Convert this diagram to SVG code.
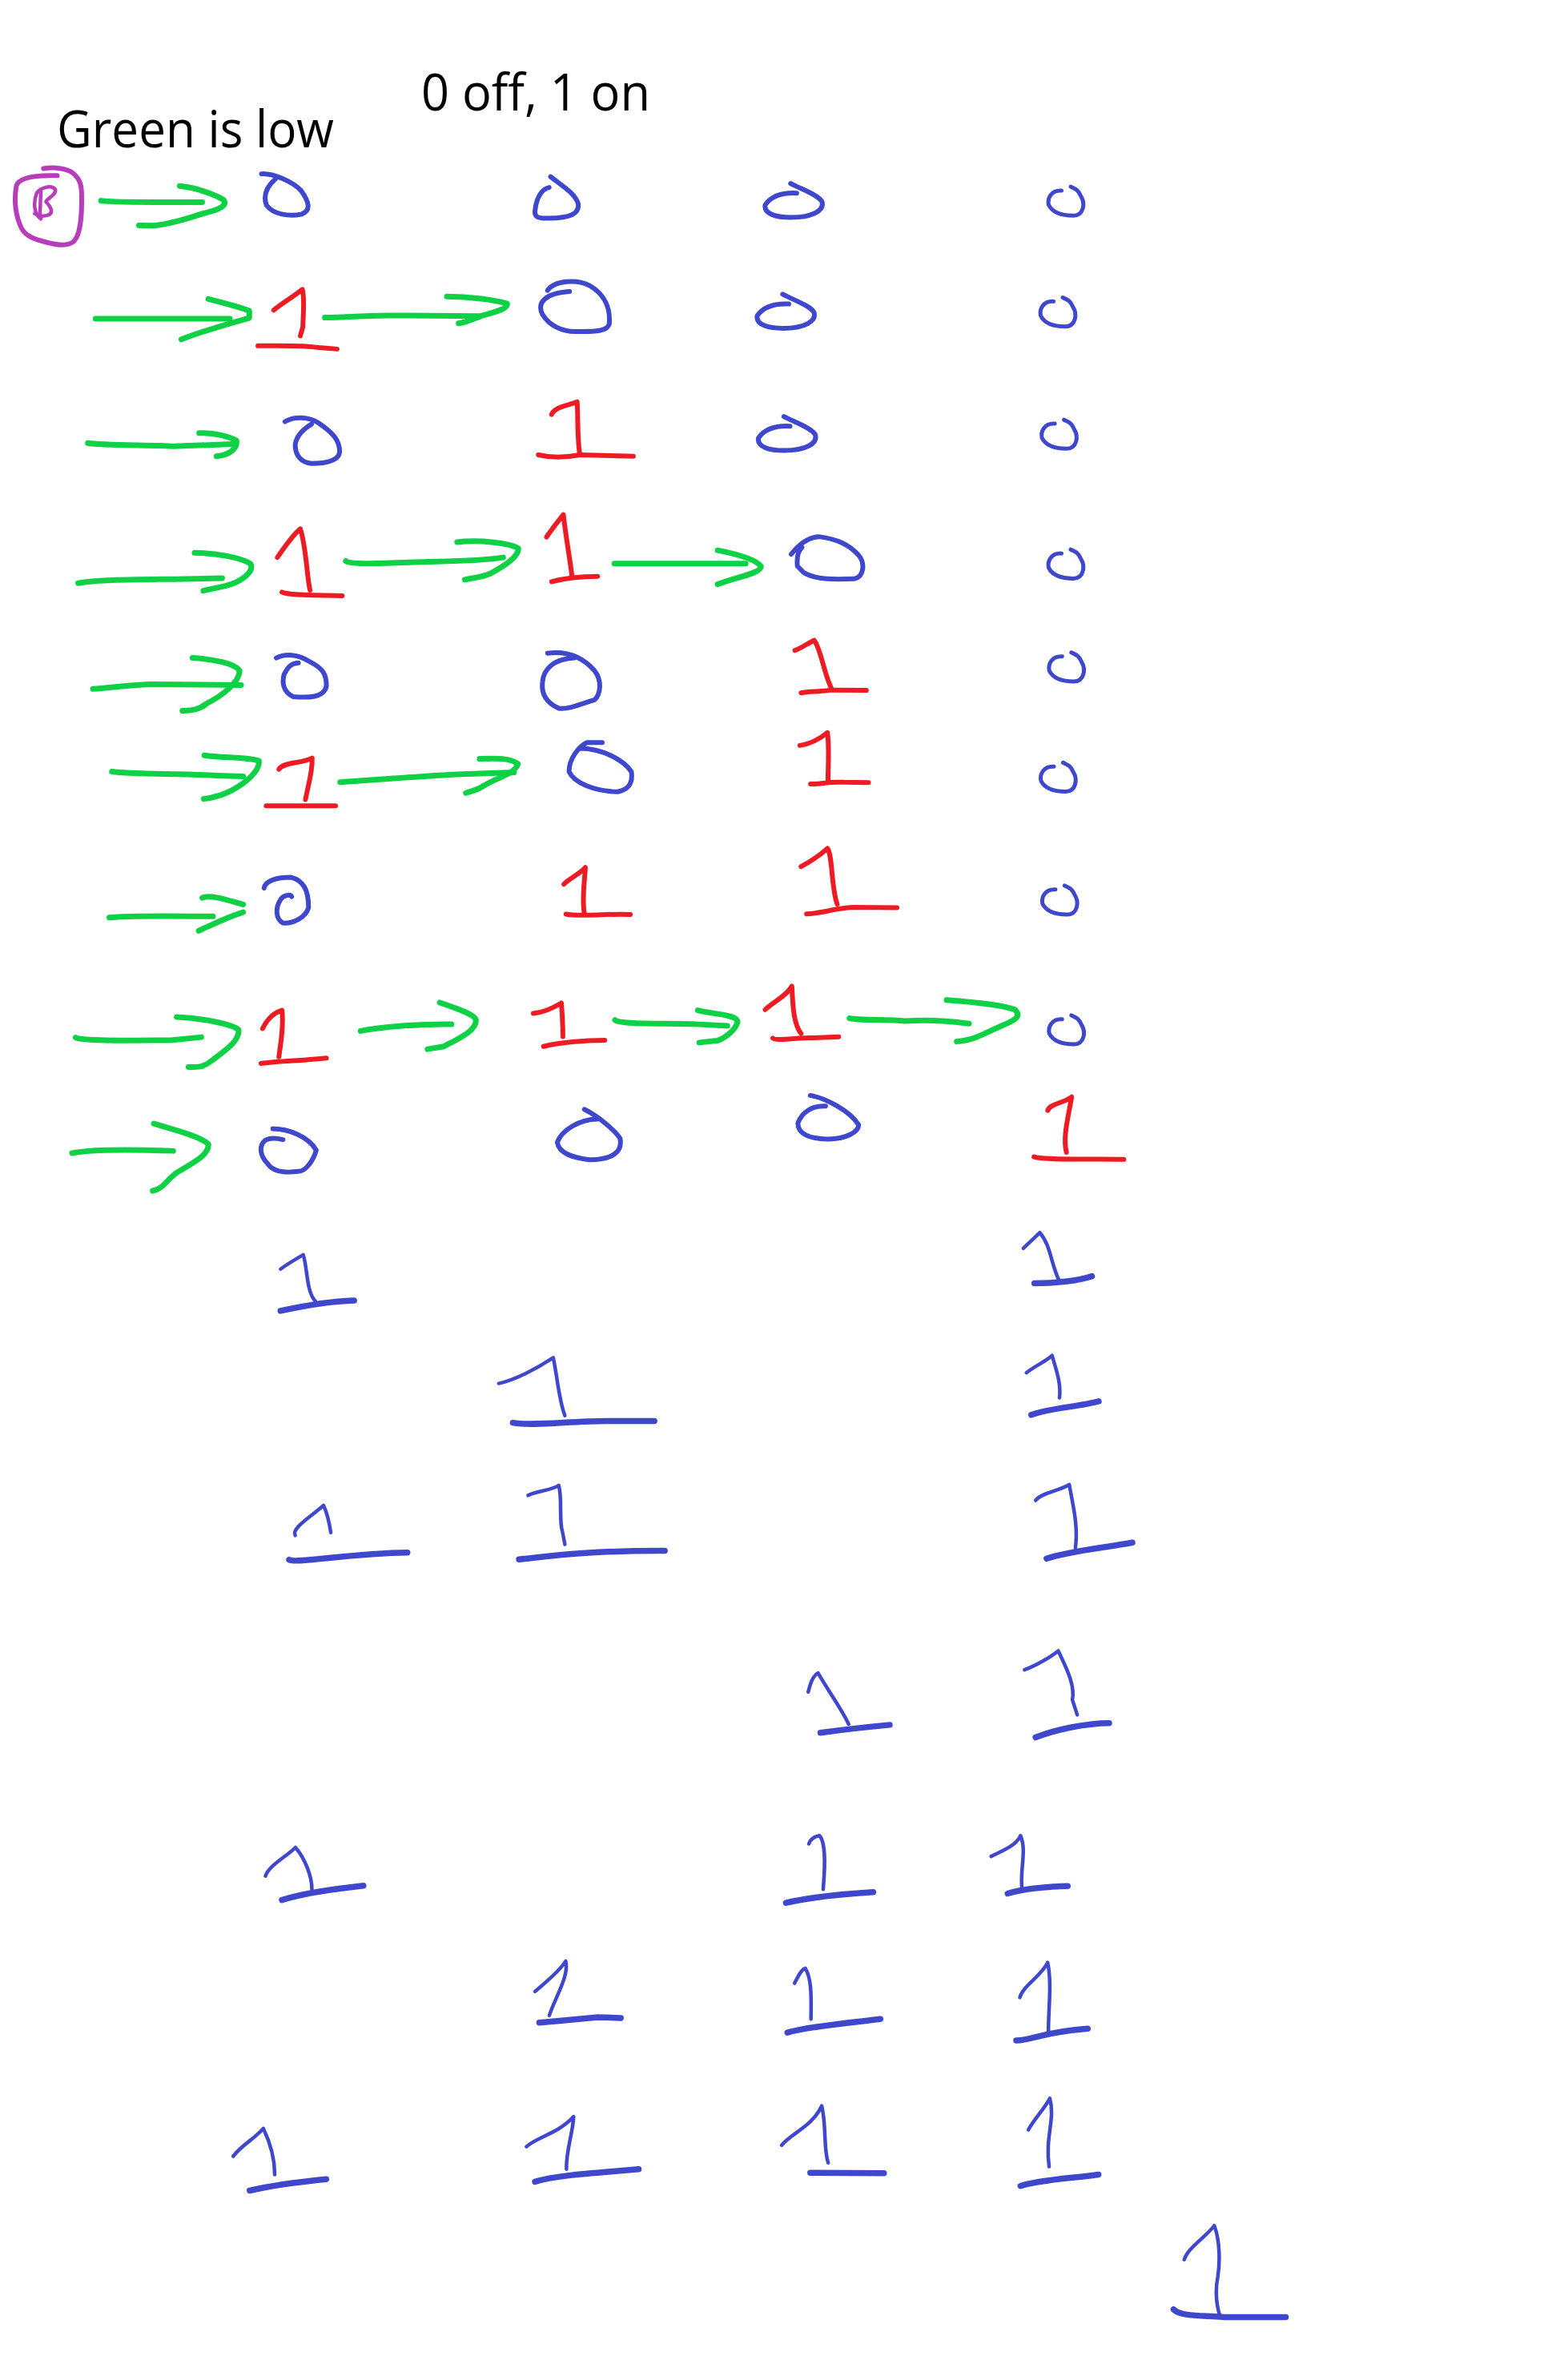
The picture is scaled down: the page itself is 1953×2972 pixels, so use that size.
<svg xmlns="http://www.w3.org/2000/svg" width="1953" height="2972" viewBox="0 0 1953 2972">
<style>
path{fill:none;stroke-linecap:round;stroke-linejoin:round;vector-effect:non-scaling-stroke;stroke-width:6}
.z1{transform:translate(0px,60px) scale(.6378,.4464)}
.z2{transform:translate(900px,180px) scale(.3827,.4464)}
.z3{transform:translate(60px,760px) scale(.6378,.4847)}
.z4{transform:translate(900px,880px) scale(.3827,.4464)}
.z5{transform:translate(260px,1520px) scale(.7653,.4464)}
.z6{transform:translate(260px,2240px) scale(.8929,.4464)}
.b{stroke:#3f48cc}
.r{stroke:#ed1c24}
.p{stroke:#b83dba}
.p path+path{stroke-width:4.5}
.g{stroke:#0ed145}
.g path{stroke-width:7}
.t path{stroke-width:4.5}
.t path+path{stroke-width:7.5}
#c{stroke-width:5}
text{font-family:"Open Sans","Noto Sans",sans-serif;fill:#000}
</style>
<defs>
<path id="ov" d="M228 110C260 125 315 140 330 160C340 185 300 205 230 205C180 205 140 195 145 170C165 145 200 135 248 137"/>
<path id="c" d="M1112 130C1080 128 1065 150 1070 170C1085 195 1120 200 1150 200C1185 200 1190 165 1175 145C1165 125 1155 125 1142 119"/>
</defs>
<rect width="1953" height="2972" fill="#fff"/>
<text id="label-green" x="71" y="184" font-size="64" textLength="346" lengthAdjust="spacingAndGlyphs">Green is low</text>
<text id="label-legend" x="526" y="138" font-size="64" textLength="286" lengthAdjust="spacingAndGlyphs">0 off, 1 on</text>
<g id="start" class="z1 p"><path d="M85 337C105 333 130 335 143 350C158 368 160 385 160 420C160 470 158 520 145 540C135 555 115 552 95 545C65 535 45 525 38 490C30 460 28 420 32 385C38 360 75 355 112 357"/><path d="M80 478C66 465 65 430 72 405C80 390 100 382 108 395C112 410 92 420 90 430C100 445 105 460 95 467C85 472 75 470 68 463M80 400L78 475"/></g>
<g id="connectors">
<g class="z1 g"><path d="M198 427C230 433 340 431 396 431"/><path d="M352 386C380 390 420 408 438 425C445 440 430 452 405 460C375 472 340 492 300 497L272 496"/></g>
<g class="z1 g"><path d="M187 757L450 757"/><path d="M408 702C430 710 470 725 488 735L488 755C450 770 400 790 355 815"/></g>
<g class="z1 g"><path d="M636 754C670 755 700 748 760 748L940 750"/><path d="M875 695C920 695 970 705 993 715C995 730 965 740 945 748C930 755 915 768 898 770"/></g>
<g class="z1 g"><path d="M172 1105C200 1112 300 1110 340 1114L455 1108"/><path d="M390 1077C420 1075 450 1088 463 1098C465 1120 450 1138 424 1142"/></g>
<g class="z1 g"><path d="M153 1497C190 1485 280 1488 435 1483"/><path d="M381 1412C420 1412 470 1425 490 1442C500 1465 470 1495 440 1505L398 1518"/></g>
<g class="z1 g"><path d="M677 1435C685 1445 750 1442 810 1438C860 1435 930 1437 985 1425"/><path d="M895 1382C940 1375 1000 1385 1015 1400C1015 1425 985 1450 960 1470C945 1480 925 1482 910 1487"/></g>
<g class="z1 g"><path d="M1203 1442L1460 1442"/><path d="M1405 1405C1440 1415 1480 1430 1490 1450C1490 1470 1440 1480 1405 1500"/></g>
<g class="z3 g"><path d="M88 207C120 205 150 197 200 195L378 197"/><path d="M283 127C320 130 365 140 375 160C375 190 340 225 310 245C295 262 280 262 263 263"/></g>
<g class="z3 g"><path d="M125 420C160 427 250 425 330 430L382 432"/><path d="M306 378C340 385 390 382 413 392C415 420 385 450 360 468C340 482 325 487 305 490"/></g>
<g class="z3 g"><path d="M572 447C650 440 750 430 800 427L912 422"/><path d="M845 387C880 385 905 385 920 400C915 425 880 435 855 455C840 468 830 470 818 475"/></g>
<g class="z3 g"><path d="M120 796C160 790 250 792 323 793"/><path d="M302 745C320 735 360 755 382 762M382 782C350 795 320 815 295 830"/></g>
<g class="z3 g"><path d="M54 1105C65 1115 180 1112 240 1112L300 1104"/><path d="M252 1052C300 1055 360 1070 373 1085C375 1115 345 1140 320 1165C305 1182 290 1182 275 1181"/></g>
<g class="z3 g"><path d="M612 1088C650 1078 720 1070 790 1071"/><path d="M767 1015C800 1030 835 1045 838 1060C838 1090 800 1110 775 1128L743 1135"/></g>
<g class="z3 g"><path d="M1110 1060C1120 1072 1200 1068 1260 1070L1330 1075"/><path d="M1272 1035C1300 1045 1350 1045 1350 1065C1345 1090 1320 1110 1310 1113L1275 1118"/></g>
<g class="z4 g"><path d="M420 877C460 885 550 878 600 885C680 880 750 885 810 892"/><path d="M737 826C800 830 920 840 960 853C980 870 965 880 930 893C880 910 830 940 770 942"/></g>
<g class="z3 g"><path d="M47 1403C80 1393 160 1393 245 1397"/><path d="M207 1327C240 1340 300 1360 314 1380C315 1410 280 1430 250 1455C230 1475 225 1495 205 1500"/></g>
</g>
<g id="r1c1" class="z1 b"><path d="M512 352C535 350 575 375 590 400C605 430 610 455 590 465C565 472 535 465 522 440C515 415 520 390 540 365"/></g>
<g id="r1c2" class="z1 b"><path d="M1078 360C1100 385 1125 405 1132 435C1135 465 1115 475 1075 476C1050 478 1045 470 1048 450C1050 425 1058 395 1075 390"/></g>
<g id="r1c3" class="z2 b"><use href="#ov"/></g>
<g id="r1c4" class="z2 b"><use href="#c"/></g>
<g id="r2c1" class="z1 r"><path d="M536 733C550 715 575 695 592 675C597 700 593 760 593 780L588 805"/><path d="M505 833C550 832 600 832 625 838L660 842"/></g>
<g id="r2c2" class="z1 b"><path d="M1072 678C1085 650 1130 645 1155 665C1185 690 1195 730 1193 770C1190 795 1160 793 1130 793C1100 795 1075 775 1062 745C1050 710 1070 685 1115 681"/></g>
<g id="r2c3" class="z2 b"><use href="#ov" x="-26" y="310"/></g>
<g id="r2c4" class="z2 b"><use href="#c" x="-26" y="310"/></g>
<g id="r3c1" class="z1 b"><path d="M558 1045C575 1030 605 1030 625 1050C650 1075 665 1095 665 1130C663 1155 640 1162 610 1162C590 1160 578 1140 578 1110C580 1085 595 1065 610 1052"/></g>
<g id="r3c2" class="z1 r"><path d="M1080 1025C1085 1005 1110 1000 1130 990C1132 1040 1130 1090 1135 1135"/><path d="M1054 1138C1080 1147 1110 1145 1135 1138L1240 1142"/></g>
<g id="r3c3" class="z2 b"><use href="#ov" x="-22" y="652"/></g>
<g id="r3c4" class="z2 b"><use href="#c" x="-22" y="652"/></g>
<g id="r4c1" class="z1 r"><path d="M543 1425C555 1400 575 1360 588 1345C600 1400 600 1470 607 1517"/><path d="M552 1522C565 1532 620 1530 670 1532"/></g>
<g id="r4c2" class="z1 r"><path d="M1070 1368C1080 1345 1095 1320 1103 1305C1108 1370 1115 1420 1120 1478"/><path d="M1080 1493C1100 1485 1130 1478 1170 1478"/></g>
<g id="r4c3" class="z2 b"><path d="M230 1147C250 1125 280 1100 320 1098C380 1105 420 1120 450 1150C470 1170 470 1210 435 1216C380 1218 310 1220 270 1198L250 1180C248 1160 250 1140 265 1128"/></g>
<g id="r4c4" class="z2 b"><use href="#c" y="1015"/></g>
<g id="r5c1" class="z3 b"><path d="M447 127C465 115 490 118 510 135C540 155 545 170 545 200C540 230 510 230 480 227C460 215 458 190 462 170C470 150 475 142 490 140"/></g>
<g id="r5c2" class="z3 b"><path d="M978 115C1020 108 1050 130 1070 160C1085 185 1082 220 1070 235C1045 245 1020 260 1000 257C980 245 965 225 968 190C970 155 990 130 1030 127"/></g>
<g id="r5c3" class="z2 r"><path d="M242 1416C265 1410 285 1395 305 1388C325 1410 335 1470 355 1510L362 1525"/><path d="M262 1535C290 1530 330 1532 360 1527L475 1528"/></g>
<g id="r5c4" class="z2 b"><use href="#c" x="2" y="1303"/></g>
<g id="r6c1" class="z3 r"><path d="M452 414C460 395 495 400 517 385C518 420 510 450 504 492"/><path d="M427 508L563 508"/></g>
<g id="r6c2" class="z3 b"><path d="M1085 345L1055 345C1040 355 1020 385 1020 420C1030 450 1070 470 1115 472C1140 465 1145 445 1142 420C1130 395 1090 360 1040 360"/></g>
<g id="r6c3" class="z4 r"><path d="M258 114C290 110 325 95 348 78C355 120 350 170 350 212"/><path d="M293 222C330 222 350 215 400 217L482 218"/></g>
<g id="r6c4" class="z4 b"><use href="#c" x="-25" y="43"/></g>
<g id="r7c1" class="z3 b"><path d="M423 720C425 700 450 692 475 692C500 700 510 725 510 770C505 795 480 812 460 810C445 800 445 770 455 750C460 738 475 735 477 742"/></g>
<g id="r7c2" class="z3 r"><path d="M1010 710C1020 695 1040 685 1052 667C1050 710 1045 750 1050 785"/><path d="M1014 787C1040 795 1090 785 1140 788"/></g>
<g id="r7c3" class="z4 r"><path d="M262 453C290 440 325 420 348 402C365 420 360 510 380 558"/><path d="M280 585C320 585 370 570 430 567L575 568"/></g>
<g id="r7c4" class="z4 b"><use href="#c" x="-20" y="387"/></g>
<g id="r8c1" class="z3 r"><path d="M420 1082C430 1055 445 1040 458 1035C462 1080 455 1120 452 1155"/><path d="M417 1172C450 1165 500 1165 545 1158"/></g>
<g id="r8c2" class="z3 r"><path d="M950 1043C970 1040 990 1028 1005 1016C1007 1050 1008 1080 1008 1103"/><path d="M970 1128C1000 1118 1050 1112 1090 1112"/></g>
<g id="r8c3" class="z4 r"><path d="M145 853C165 835 215 815 232 787C235 830 235 890 262 920"/><path d="M170 933C180 942 260 930 300 932L385 929"/></g>
<g id="r8c4" class="z4 b"><use href="#c" x="2" y="750"/></g>
<g id="r9c1" class="z3 b"><path d="M440 1340C470 1340 510 1360 525 1395C520 1420 505 1450 490 1450C460 1455 440 1450 430 1430C415 1410 412 1385 425 1370C435 1362 450 1365 460 1368"/></g>
<g id="r9c2" class="z3 b"><path d="M1050 1290C1080 1310 1110 1345 1120 1365C1125 1400 1105 1420 1060 1420C1030 1415 1000 1405 997 1375C1005 1345 1040 1315 1075 1315"/></g>
<g id="r9c3" class="z4 b"><path d="M292 1093C340 1100 420 1135 450 1175C450 1195 410 1215 350 1215C290 1215 250 1200 252 1170C265 1140 300 1120 342 1123"/></g>
<g id="r9c4" class="z4 r"><path d="M1067 1135C1075 1115 1120 1115 1145 1097C1135 1150 1115 1210 1128 1252"/><path d="M1022 1265C1060 1275 1200 1270 1315 1272"/></g>
<g id="r10c1" class="z5 b t"><path d="M118 145C130 130 145 115 155 105C162 140 160 210 175 235"/><path d="M118 262C150 250 200 235 238 233"/></g>
<g id="r10c4" class="z5 b t"><path d="M1330 87C1340 70 1350 55 1357 43C1375 80 1375 130 1388 175"/><path d="M1348 185C1380 185 1420 178 1442 165"/></g>
<g id="r11c2" class="z5 b t"><path d="M474 465C500 455 535 425 563 393C570 450 572 510 582 555"/><path d="M497 575C530 585 590 570 650 570L728 570"/></g>
<g id="r11c4" class="z5 b t"><path d="M1335 435C1350 415 1365 405 1377 387C1382 420 1392 460 1389 505"/><path d="M1343 553C1370 535 1420 530 1453 515"/></g>
<g id="r12c1" class="z5 b t"><path d="M142 890C135 870 170 835 188 806C195 830 198 860 200 882"/><path d="M132 958C140 970 230 940 325 938"/></g>
<g id="r12c2" class="z5 b t"><path d="M522 778C535 765 560 765 572 750C578 790 572 850 578 880L582 915"/><path d="M507 957C550 950 620 932 745 933"/></g>
<g id="r12c4" class="z5 b t"><path d="M1350 792C1360 770 1390 765 1405 748C1410 800 1420 860 1415 925"/><path d="M1368 955C1400 935 1460 925 1508 910"/></g>
<g id="r13c3" class="z5 b t"><path d="M979 1328C982 1310 985 1285 995 1275C1010 1320 1035 1380 1045 1418"/><path d="M999 1442C1030 1435 1080 1425 1112 1420"/></g>
<g id="r13c4" class="z5 b t"><path d="M1332 1266C1350 1255 1375 1230 1387 1213C1400 1260 1415 1310 1410 1350L1418 1392"/><path d="M1350 1455C1380 1435 1430 1415 1470 1415"/></g>
<g id="r14c1" class="z6 b t"><path d="M80 230C85 200 110 175 122 150C135 180 145 230 145 267"/><path d="M103 297C130 280 180 265 217 257"/></g>
<g id="r14c3" class="z6 b t"><path d="M840 140C842 125 850 118 855 117C865 140 862 220 860 267"/><path d="M808 305C840 290 890 280 930 275"/></g>
<g id="r14c4" class="z6 b t"><path d="M1095 175C1110 160 1130 145 1136 117C1145 160 1135 210 1138 265"/><path d="M1118 279C1140 265 1170 260 1202 258"/></g>
<g id="r15c2" class="z6 b t"><path d="M457 553C470 530 490 500 500 468C505 510 485 570 477 620"/><path d="M463 640C490 635 520 630 545 625L577 627"/></g>
<g id="r15c3" class="z6 b t"><path d="M820 530C825 510 830 490 835 488C845 520 843 580 843 630"/><path d="M810 668C840 650 900 640 940 630"/></g>
<g id="r15c4" class="z6 b t"><path d="M1135 570C1140 535 1165 510 1174 472C1180 530 1175 600 1175 665"/><path d="M1130 690C1150 690 1170 665 1230 657"/></g>
<g id="r16c1" class="z6 b t"><path d="M35 1014C45 985 65 965 77 936C90 990 93 1030 93 1065"/><path d="M58 1110C90 1095 130 1085 165 1078"/></g>
<g id="r16c2" class="z6 b t"><path d="M445 987C460 960 490 950 511 903C510 950 500 1000 501 1050"/><path d="M457 1085C490 1065 550 1060 602 1050"/></g>
<g id="r16c3" class="z6 b t"><path d="M802 983C815 950 845 930 858 873C865 930 860 990 867 1032"/><path d="M842 1060L945 1061"/></g>
<g id="r16c4" class="z6 b t"><path d="M1147 940C1155 910 1170 880 1177 852C1185 910 1170 960 1176 1043"/><path d="M1136 1097C1160 1080 1210 1075 1245 1065"/></g>
<g id="r17c5" class="z6 b t"><path d="M1365 1303C1370 1270 1395 1240 1407 1208C1415 1250 1415 1310 1412 1350C1408 1390 1410 1430 1415 1462"/><path d="M1350 1442C1360 1465 1400 1458 1420 1464L1507 1464"/></g>
</svg>
